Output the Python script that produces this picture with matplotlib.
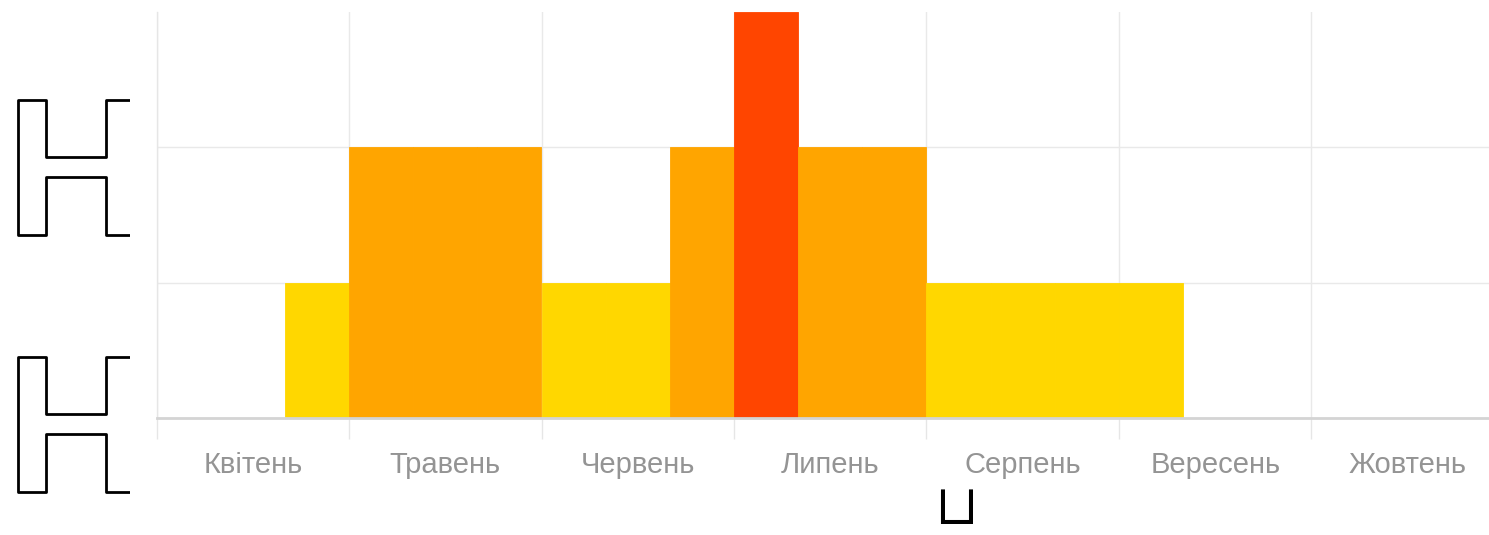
import matplotlib
matplotlib.use("Agg")
import matplotlib.pyplot as plt
import matplotlib.patheffects as pe
from matplotlib.ticker import FixedLocator, NullFormatter, FixedFormatter
import numpy as np

# ---- data ----
months = ["Квітень", "Травень", "Червень", "Липень", "Серпень", "Вересень", "Жовтень"]
# values for each ten-day period (3 per month)
decade_values = [0, 0, 1,
                 2, 2, 2,
                 1, 1, 2,
                 3, 2, 2,
                 1, 1, 1,
                 1, 0, 0,
                 0, 0, 0]
level_colors = {1: "#FFD700", 2: "#FFA500", 3: "#FF4500"}

W, H = 1489, 535
dpi = 100
fig = plt.figure(figsize=(W / dpi, H / dpi), dpi=dpi)
fig.patch.set_facecolor("white")

x0_px, x1_px = 156.5, 1504.0
y0_px, y1_px = 418.0, 12.0
ax = fig.add_axes([x0_px / W, (H - y0_px) / H, (x1_px - x0_px) / W, (y0_px - y1_px) / H])

n = len(decade_values)
xs = np.arange(n)
cols = [level_colors.get(v, "white") for v in decade_values]
ax.bar(xs, decade_values, width=1.0, align="edge", color=cols, edgecolor=cols,
       linewidth=0.6, zorder=2)

ax.set_xlim(0, 3 * len(months))
ax.set_ylim(0, 3)

# grid
ax.xaxis.set_major_locator(FixedLocator(np.arange(0, 3 * len(months) + 1, 3)))
ax.xaxis.set_major_formatter(NullFormatter())
ax.xaxis.set_minor_locator(FixedLocator(np.arange(1.5, 3 * len(months), 3)))
ax.xaxis.set_minor_formatter(FixedFormatter(months))
ax.tick_params(axis="x", which="major", length=15, color="#e6e6e6", width=1, direction="out")
ax.tick_params(axis="x", which="minor", length=0, pad=24, labelsize=21, labelcolor="#949494")
for lab in ax.get_xticklabels(minor=True):
    lab.set_fontfamily("Liberation Sans")

ax.set_yticks([0, 1, 2])
ax.set_yticklabels([])
ax.tick_params(axis="y", length=0)
ax.grid(True, which="major", color="#e9e9e9", linewidth=1, zorder=0)
ax.set_axisbelow(True)

for s in ["top", "right"]:
    ax.spines[s].set_visible(False)
ax.spines["left"].set_color("#e6e6e6")
ax.spines["left"].set_linewidth(1)
ax.spines["bottom"].set_color("#d4d4d4")
ax.spines["bottom"].set_linewidth(2)
ax.spines["bottom"].set_zorder(3)

# stray outlined glyphs on the left side, clipped
ax_h = fig.add_axes([0, 0, 130 / W, 1])
ax_h.set_axis_off()
for base_px in (235, 492):
    t = ax_h.text(4 / W, (H - base_px) / H, "H", transform=fig.transFigure,
                  fontsize=134, fontweight="black", family="Lato",
                  color="white", va="baseline", ha="left",
                  path_effects=[pe.Stroke(linewidth=2, foreground="black")])
    t.set_clip_on(True)
    t.set_clip_box(ax_h.bbox)

fig.text(955.5 / W, (H - 534.5) / H, r"$\sqcup$", fontsize=44, math_fontfamily="stix",
         color="black", ha="center", va="bottom")

fig.savefig("out.png", dpi=dpi)
